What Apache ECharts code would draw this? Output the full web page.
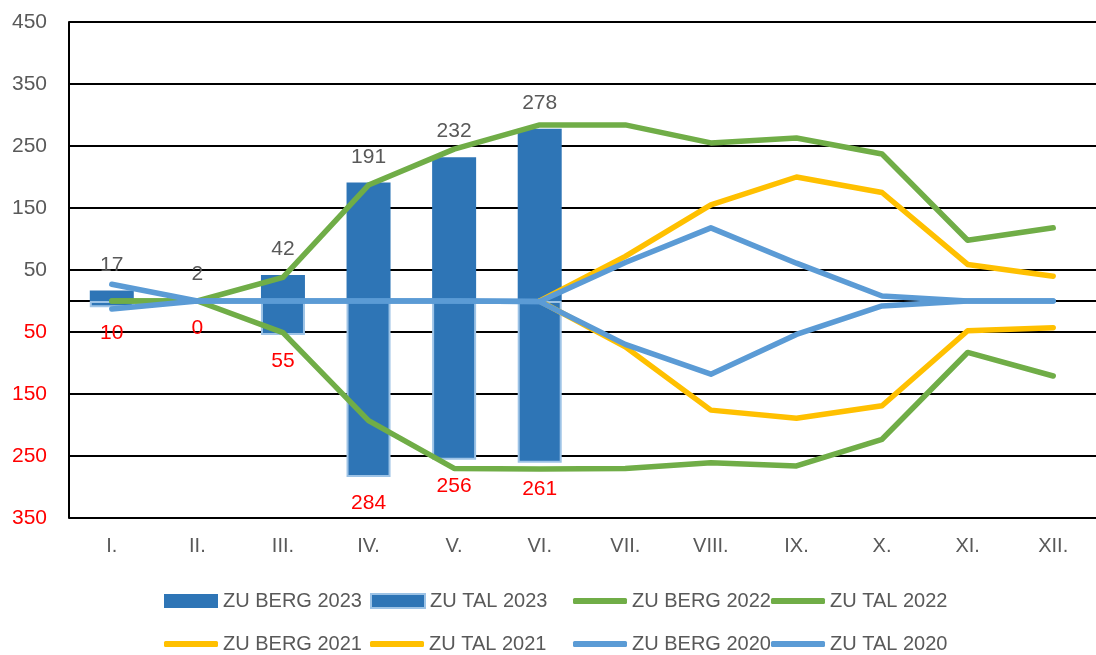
<!DOCTYPE html>
<html>
<head>
<meta charset="utf-8">
<script src="https://cdn.jsdelivr.net/npm/echarts@6/dist/echarts.min.js"></script>
<style>
    html, body { margin: 0; padding: 0; background: #fff; }
    #chart { width: 1096px; height: 655px; }
</style>
</head>
<body>
<div id="chart"></div>
<script>
const months = ['I.', 'II.', 'III.', 'IV.', 'V.', 'VI.', 'VII.', 'VIII.', 'IX.', 'X.', 'XI.', 'XII.'];

const berg2023 = [17, 2, 42, 191, 232, 278, '-', '-', '-', '-', '-', '-'];
const tal2023 = [-10, 0, -55, -284, -256, -261, '-', '-', '-', '-', '-', '-'];
const berg2022 = [0, 0, 38, 187, 245, 284, 284, 255, 263, 237, 98, 118];
const tal2022 = [0, 0, -51, -193, -270, -271, -270, -261, -266, -223, -83, -121];
const berg2021 = ['-', '-', '-', '-', '-', 0, 72, 155, 200, 175, 59, 40];
const tal2021 = ['-', '-', '-', '-', '-', 0, -74, -176, -189, -169, -48, -43];
const berg2020 = [27, 0, 0, 0, 0, -1, 62, 118, 61, 8, 0, 0];
const tal2020 = [-13, 0, 0, 0, 0, -1, -70, -118, -54, -8, 0, 0];

const FONT = 'Liberation Sans';
const GRAY = '#595959';
const RED = '#FF0000';
const DARK_BLUE = '#2E75B6';
const LIGHT_BLUE = '#9DC3E6';
const GREEN = '#70AD47';
const YELLOW = '#FFC000';
const BLUE = '#5B9BD5';

const chart = echarts.init(document.getElementById('chart'));

function lineSeries(name, data, color) {
    return {
        name: name,
        type: 'line',
        data: data,
        showSymbol: false,
        symbol: 'none',
        color: color,
        lineStyle: { color: color, width: 5.5, cap: 'round', join: 'round' },
        itemStyle: { color: color },
        emphasis: { disabled: true },
        animation: false
    };
}

// one legend per entry, laid out in Excel-like columns
function legendItem(name, left, top, isLine) {
    return {
        left: left,
        top: top,
        padding: 0,
        itemWidth: 54,
        itemHeight: isLine ? 6 : 14,
        icon: isLine ? 'roundRect' : 'rect',
        data: [name],
        textStyle: { color: GRAY, fontSize: 20, fontFamily: FONT },
        selectedMode: false
    };
}

const row1 = 591, row2 = 634;

chart.setOption({
    backgroundColor: '#fff',
    animation: false,
    textStyle: { fontFamily: FONT },
    grid: { left: 69, top: 22, width: 1037, height: 496, containLabel: false },
    legend: [
        legendItem('ZU BERG 2023', 164, row1, false),
        legendItem('ZU TAL 2023', 370, row1, false),
        legendItem('ZU BERG 2022', 573, row1, true),
        legendItem('ZU TAL 2022', 771, row1, true),
        legendItem('ZU BERG 2021', 164, row2, true),
        legendItem('ZU TAL 2021', 370, row2, true),
        legendItem('ZU BERG 2020', 573, row2, true),
        legendItem('ZU TAL 2020', 771, row2, true)
    ],
    xAxis: [
        {
            type: 'category',
            data: months,
            position: 'bottom',
            axisLine: { onZero: false, show: false },
            axisTick: { show: false },
            axisLabel: { color: GRAY, fontSize: 20, fontFamily: FONT, margin: 18 }
        },
        {
            type: 'category',
            data: months,
            position: 'bottom',
            axisLine: { onZero: true, show: true, lineStyle: { color: '#000', width: 2 } },
            axisTick: { show: false },
            axisLabel: { show: false }
        }
    ],
    yAxis: {
        type: 'value',
        min: -350,
        max: 450,
        interval: 100,
        axisLine: { show: true, lineStyle: { color: '#000', width: 2 } },
        axisTick: { show: false },
        splitLine: { show: true, lineStyle: { color: '#000', width: 2 } },
        axisLabel: {
            fontSize: 21,
            fontFamily: FONT,
            margin: 22,
            formatter: v => String(Math.abs(v)),
            color: v => (Number(v) < 0 ? RED : GRAY)
        }
    },
    series: [
        {
            name: 'ZU BERG 2023',
            type: 'bar',
            data: berg2023,
            barWidth: 44,
            barGap: '-100%',
            itemStyle: { color: DARK_BLUE },
            label: {
                show: true,
                position: 'top',
                distance: 15,
                color: GRAY,
                fontSize: 21,
                fontFamily: FONT
            },
            emphasis: { disabled: true }
        },
        {
            name: 'ZU TAL 2023',
            type: 'bar',
            data: tal2023,
            barWidth: 44,
            barGap: '-100%',
            itemStyle: { color: DARK_BLUE, borderColor: LIGHT_BLUE, borderWidth: 2 },
            label: {
                show: true,
                position: 'bottom',
                distance: 16,
                color: RED,
                fontSize: 21,
                fontFamily: FONT,
                formatter: p => String(Math.abs(p.value))
            },
            emphasis: { disabled: true }
        },
        lineSeries('ZU BERG 2022', berg2022, GREEN),
        lineSeries('ZU TAL 2022', tal2022, GREEN),
        lineSeries('ZU BERG 2021', berg2021, YELLOW),
        lineSeries('ZU TAL 2021', tal2021, YELLOW),
        lineSeries('ZU BERG 2020', berg2020, BLUE),
        lineSeries('ZU TAL 2020', tal2020, BLUE)
    ]
});
</script>
</body>
</html>
